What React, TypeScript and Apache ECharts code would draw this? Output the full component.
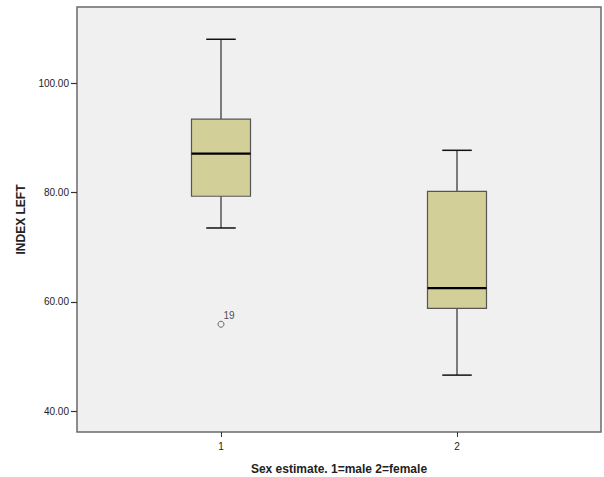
import React, { useEffect, useRef } from "react";
import * as echarts from "echarts";

const categories = ["1", "2"];
const lowerWhisker = [73.5, 46.6];
const q1 = [79.3, 58.8];
const median = [87.1, 62.5];
const q3 = [93.4, 80.2];
const upperWhisker = [108.0, 87.7];
const outliers: [number, number, string][] = [[0, 55.9, "19"]];
const yTicks = [40, 60, 80, 100];
const yMin = 36.2;
const yMax = 113.9;

export default function App() {
  const ref = useRef<HTMLDivElement>(null);
  useEffect(() => {
    document.body.style.margin = "0";
    const chart = echarts.init(ref.current!, null, { renderer: "svg" });
    const font = "Liberation Sans, Arial, sans-serif";
    const boxData = categories.map((c, i) => [i, lowerWhisker[i], q1[i], median[i], q3[i], upperWhisker[i]]);
    chart.setOption({
      animation: false,
      backgroundColor: "#ffffff",
      grid: [
        {
          left: 77, right: 3, top: 7, bottom: 45, show: true,
          backgroundColor: "#f0f0f0", borderColor: "#6a6a6a", borderWidth: 1.5,
          containLabel: false, outerBoundsMode: "none",
        },
        { left: 103, right: 29, top: 7, bottom: 45, containLabel: false, outerBoundsMode: "none" },
      ],
      xAxis: [
        { gridIndex: 0, type: "value", min: 0, max: 1, show: false },
        {
          gridIndex: 1,
          type: "category",
          data: categories,
          axisLine: { show: false },
          axisTick: { show: true, alignWithLabel: true, length: 5, lineStyle: { color: "#333", width: 1 } },
          axisLabel: { color: "#222", fontSize: 10, fontFamily: font, margin: 9 },
          name: "Sex estimate. 1=male 2=female",
          nameLocation: "middle",
          nameGap: 31,
          nameTextStyle: { color: "#222", fontSize: 12, fontWeight: "bold", fontFamily: font },
        },
      ],
      yAxis: [
        { gridIndex: 0, type: "value", min: 0, max: 1, show: false },
        {
          gridIndex: 1,
          type: "value",
          min: yMin,
          max: yMax,
          offset: 26,
          axisLine: { show: false },
          splitLine: { show: false },
          axisTick: { show: true, length: 6, customValues: yTicks, lineStyle: { color: "#333", width: 1.2 } },
          axisLabel: {
            color: "#222",
            fontSize: 10,
            fontFamily: font,
            margin: 8,
            customValues: yTicks,
            formatter: (v: number) => v.toFixed(2),
          },
          name: "INDEX LEFT",
          nameLocation: "middle",
          nameGap: 50,
          nameTextStyle: { color: "#222", fontSize: 12, fontWeight: "bold", fontFamily: font },
        },
      ],
      series: [
        {
          type: "custom",
          xAxisIndex: 1,
          yAxisIndex: 1,
          data: boxData,
          encode: { x: 0, y: [1, 2, 3, 4, 5] },
          renderItem: (params: any, api: any) => {
            const idx = api.value(0);
            const band = api.size([1, 0])[0];
            const bw = band * 0.25;
            const cw = bw / 2;
            const pLo = api.coord([idx, api.value(1)]);
            const pQ1 = api.coord([idx, api.value(2)]);
            const pMed = api.coord([idx, api.value(3)]);
            const pQ3 = api.coord([idx, api.value(4)]);
            const pHi = api.coord([idx, api.value(5)]);
            const cx = pLo[0];
            return {
              type: "group",
              children: [
                { type: "line", shape: { x1: cx, y1: pHi[1], x2: cx, y2: pQ3[1] }, style: { stroke: "#555", lineWidth: 1.5 } },
                { type: "line", shape: { x1: cx, y1: pQ1[1], x2: cx, y2: pLo[1] }, style: { stroke: "#555", lineWidth: 1.5 } },
                { type: "line", shape: { x1: cx - cw / 2, y1: pHi[1], x2: cx + cw / 2, y2: pHi[1] }, style: { stroke: "#111", lineWidth: 1.5 } },
                { type: "line", shape: { x1: cx - cw / 2, y1: pLo[1], x2: cx + cw / 2, y2: pLo[1] }, style: { stroke: "#111", lineWidth: 1.5 } },
                {
                  type: "rect",
                  shape: { x: cx - bw / 2, y: pQ3[1], width: bw, height: pQ1[1] - pQ3[1] },
                  style: { fill: "#d3cf99", stroke: "#555", lineWidth: 1.2 },
                },
                { type: "line", shape: { x1: cx - bw / 2, y1: pMed[1], x2: cx + bw / 2, y2: pMed[1] }, style: { stroke: "#000", lineWidth: 2.2 } },
              ],
            };
          },
        },
        {
          type: "scatter",
          xAxisIndex: 1,
          yAxisIndex: 1,
          data: outliers.map((o) => ({ value: [o[0], o[1]], name: o[2] })),
          symbol: "circle",
          symbolSize: 6,
          itemStyle: { color: "#f0f0f0", borderColor: "#444", borderWidth: 1 },
          label: {
            show: true,
            position: [6, -10],
            formatter: (p: any) => p.name,
            color: "#222",
            fontSize: 10,
            fontFamily: font,
          },
        },
      ],
    });
    return () => chart.dispose();
  }, []);
  return <div ref={ref} style={{ width: 604, height: 477 }} />;
}
